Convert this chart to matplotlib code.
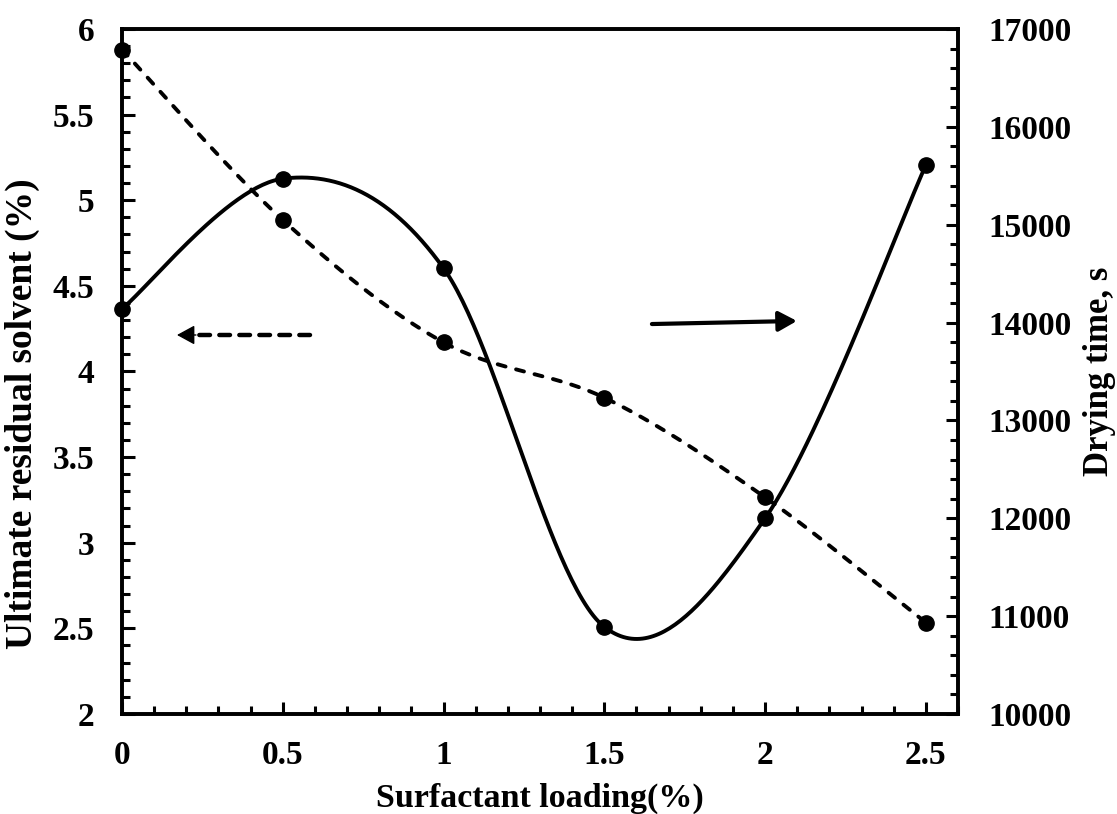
import numpy as np
import matplotlib
matplotlib.use('Agg')
import matplotlib.pyplot as plt
from matplotlib.patches import FancyArrowPatch
from matplotlib.ticker import MultipleLocator

plt.rcParams['font.family'] = 'Liberation Serif'
plt.rcParams['font.weight'] = 'bold'
plt.rcParams['axes.labelweight'] = 'bold'

# data
loading = [0, 0.5, 1, 1.5, 2, 2.5]
residual_solvent = [5.88, 4.885, 4.17, 3.847, 3.265, 2.533]   # left axis, %
drying_time = [14140, 15470, 14555, 10890, 12000, 15610]      # right axis, s


def smooth(xs, ys, n=60):
    # Excel-like smoothed line: cubic Bezier through points, Catmull-Rom tangents
    p = np.column_stack([xs, ys]).astype(float)
    ext = np.vstack([p[0], p, p[-1]])
    out = []
    t = np.linspace(0, 1, n)[:, None]
    for i in range(len(p) - 1):
        p0, p3 = ext[i + 1], ext[i + 2]
        c1 = p0 + (ext[i + 2] - ext[i]) / 6
        c2 = p3 - (ext[i + 3] - ext[i + 1]) / 6
        seg = ((1 - t) ** 3) * p0 + 3 * ((1 - t) ** 2) * t * c1 + 3 * (1 - t) * t ** 2 * c2 + t ** 3 * p3
        out.append(seg if i == 0 else seg[1:])
    out = np.vstack(out)
    return out[:, 0], out[:, 1]


fig = plt.figure(figsize=(11.17, 8.14), dpi=100)
ax1 = fig.add_axes([0.1092, 0.1229, 0.7485, 0.8415])
ax2 = ax1.twinx()

sx, sy = smooth(loading, residual_solvent)
ax1.plot(sx, sy, color='black', linewidth=2.8, dashes=(2.1, 2.8), dash_capstyle='round')
ax1.plot(loading, residual_solvent, 'o', color='black', markersize=11, clip_on=False)

tx, ty = smooth(loading, drying_time)
ax2.plot(tx, ty, color='black', linewidth=2.8)
ax2.plot(loading, drying_time, 'o', color='black', markersize=11, clip_on=False)

# direction arrows (left axis coordinates)
ax1.plot([0.585, 0.222], [4.213, 4.213], color='black', linewidth=3.2, dashes=(2.4, 2.1), dash_capstyle='round')
ax1.add_patch(FancyArrowPatch((0.23, 4.213), (0.171, 4.213), arrowstyle='-|>,head_length=0.55,head_width=0.3',
                              mutation_scale=20, color='black', linewidth=1, shrinkA=0, shrinkB=0))
ax1.add_patch(FancyArrowPatch((1.648, 4.277), (2.099, 4.295), arrowstyle='-|>,head_length=0.55,head_width=0.3',
                              mutation_scale=20, color='black', linewidth=3, shrinkA=0, shrinkB=0,
                              capstyle='round'))

ax1.set_xlim(0, 2.6)
ax1.set_ylim(2, 6)
ax2.set_ylim(10000, 17000)
ax1.xaxis.set_minor_locator(MultipleLocator(0.1))
ax1.yaxis.set_minor_locator(MultipleLocator(0.1))
ax2.yaxis.set_major_locator(MultipleLocator(1000))
ax2.yaxis.set_minor_locator(MultipleLocator(200))
ax1.set_xticks([0, 0.5, 1, 1.5, 2, 2.5])
ax1.set_xticklabels(['0', '0.5', '1', '1.5', '2', '2.5'])
ax1.set_yticks([2, 2.5, 3, 3.5, 4, 4.5, 5, 5.5, 6])
ax1.set_yticklabels(['2', '2.5', '3', '3.5', '4', '4.5', '5', '5.5', '6'])

for ax in (ax1, ax2):
    for s in ax.spines.values():
        s.set_linewidth(2.6)
ax1.tick_params(axis='both', which='major', direction='in', length=9, width=2.2, labelsize=24)
ax1.tick_params(axis='both', which='minor', direction='in', length=6, width=2.2)
ax1.tick_params(axis='y', which='both', pad=20)
ax1.tick_params(axis='x', which='both', pad=19)
ax2.tick_params(axis='y', which='major', direction='in', length=9, width=2.2, labelsize=24, pad=22)
ax2.tick_params(axis='y', which='minor', direction='in', length=6, width=2.2)

ax1.set_xlabel('Surfactant loading(%)', fontsize=24.5, labelpad=8)
ax1.set_ylabel('Ultimate residual solvent (%)', fontsize=27)
ax1.yaxis.set_label_coords(-0.098, 0.439)
ax2.set_ylabel('Drying time, s', fontsize=25, labelpad=8)

plt.savefig('out.png', dpi=100)
plt.close()
